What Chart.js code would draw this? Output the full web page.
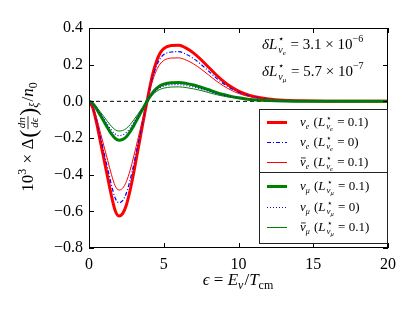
<!DOCTYPE html>
<html><head><meta charset="utf-8">
<script src="https://cdn.jsdelivr.net/npm/chart.js@4/dist/chart.umd.min.js"></script>
<style>html,body{margin:0;padding:0;background:#fff}#wrap{width:415px;height:312px;position:relative}</style>
</head><body><div id="wrap"><canvas id="c" width="415" height="312"></canvas></div>
<script>
const eps = [0,0.25,0.5,0.75,1,1.25,1.5,1.75,2,2.25,2.5,2.75,3,3.25,3.5,3.75,4,4.25,4.5,4.75,5,5.5,6,6.5,7,7.5,8,8.5,9,9.5,10,10.5,11,12,13,14,15,16,17,18,19,20];
const nueL = [0,-0.035,-0.115,-0.215,-0.315,-0.415,-0.515,-0.595,-0.625,-0.612,-0.565,-0.485,-0.385,-0.275,-0.165,-0.055,0.05,0.145,0.215,0.262,0.288,0.304,0.306,0.29,0.263,0.227,0.186,0.145,0.109,0.079,0.056,0.039,0.027,0.013,0.006,0.003,0.0013,0.0006,0.0003,0.0001,0.00005,0.00002];
const nue0 = [0,-0.031,-0.102,-0.19,-0.279,-0.367,-0.456,-0.527,-0.553,-0.542,-0.5,-0.429,-0.341,-0.243,-0.146,-0.049,0.044,0.128,0.19,0.232,0.255,0.269,0.271,0.257,0.233,0.201,0.165,0.128,0.096,0.07,0.05,0.035,0.024,0.012,0.005,0.0027,0.0012,0.0005,0.0003,0.0001,0.00004,0.00002];
const nuebarL = [0,-0.027,-0.089,-0.167,-0.244,-0.322,-0.399,-0.461,-0.484,-0.474,-0.438,-0.376,-0.298,-0.213,-0.128,-0.043,0.039,0.112,0.167,0.203,0.223,0.236,0.237,0.225,0.204,0.176,0.144,0.112,0.084,0.061,0.043,0.03,0.021,0.01,0.0047,0.0023,0.001,0.0005,0.0002,0.0001,0.00004,0.00001];
const numuL = [0,-0.012,-0.04,-0.075,-0.11,-0.145,-0.178,-0.202,-0.212,-0.208,-0.193,-0.166,-0.132,-0.094,-0.056,-0.018,0.016,0.046,0.069,0.085,0.094,0.102,0.103,0.098,0.089,0.077,0.063,0.049,0.037,0.027,0.019,0.013,0.009,0.0045,0.002,0.001,0.0005,0.0002,0.0001,0.00005,0.00002,0.00001];
const numu0 = [0,-0.011,-0.035,-0.066,-0.097,-0.128,-0.157,-0.178,-0.187,-0.183,-0.17,-0.146,-0.116,-0.083,-0.049,-0.016,0.014,0.04,0.061,0.075,0.083,0.09,0.091,0.086,0.078,0.068,0.055,0.043,0.033,0.024,0.017,0.011,0.008,0.004,0.0018,0.0009,0.0004,0.0002,0.0001,0.00004,0.00002,0.00001];
const numubarL = [0,-0.009,-0.031,-0.057,-0.084,-0.111,-0.136,-0.155,-0.162,-0.159,-0.148,-0.127,-0.101,-0.072,-0.043,-0.014,0.012,0.035,0.053,0.065,0.072,0.078,0.079,0.075,0.068,0.059,0.048,0.037,0.028,0.021,0.015,0.01,0.007,0.0034,0.0015,0.0008,0.0004,0.0002,0.0001,0.00004,0.00002,0.00001];
const zeroX = [0,20];
const zeroY = [0,0];
const xTicks = [0,5,10,15,20];
const yTicks = [-0.8,-0.6,-0.4,-0.2,0.0,0.2,0.4];

const FONT = "'Liberation Serif','DejaVu Serif',serif";
function fnt(it,size){return (it?'italic ':'')+size+'px '+FONT;}
function itemW(ctx,o){
  if(o.frac){ctx.font=fnt(true,o.size);return Math.max(ctx.measureText(o.n).width,ctx.measureText(o.d).width)+3;}
  ctx.font=fnt(o.it,o.size);
  return o.adv===false?0:ctx.measureText(o.s).width+(o.k||0);
}
function drawMath(ctx,items,x,y,align){
  let w=0; items.forEach(o=>w+=itemW(ctx,o));
  let cx = align==='center'?x-w/2:(align==='right'?x-w:x);
  ctx.textBaseline='alphabetic'; ctx.textAlign='left'; ctx.fillStyle='#000';
  items.forEach(o=>{
    if(o.frac){
      const W=itemW(ctx,o); ctx.font=fnt(true,o.size);
      const nw=ctx.measureText(o.n).width, dw=ctx.measureText(o.d).width;
      ctx.fillText(o.n,cx+(W-nw)/2,y+o.nb);
      ctx.fillText(o.d,cx+(W-dw)/2,y+o.db);
      ctx.strokeStyle='#000';ctx.lineWidth=0.8;ctx.beginPath();ctx.moveTo(cx+0.5,y+o.bar);ctx.lineTo(cx+W-0.5,y+o.bar);ctx.stroke();
      cx+=W; return;
    }
    ctx.font=fnt(o.it,o.size);
    ctx.fillText(o.s,cx,y+(o.dy||0));
    const ww=ctx.measureText(o.s).width;
    if(o.over){ctx.strokeStyle='#000';ctx.lineWidth=0.8;ctx.beginPath();ctx.moveTo(cx+1,y-o.size*0.62);ctx.lineTo(cx+ww,y-o.size*0.62);ctx.stroke();}
    if(o.adv!==false) cx+=ww+(o.k||0);
  });
}
function legendLabel(bar,flav,val){
  const S=13,s=9,ss=6.5;
  return [
    {s:'ν',it:true,size:S,over:bar},{s:flav,it:true,size:ss+1.5,dy:3,k:1},
    {s:' (',size:S},{s:'L',it:true,size:S,k:1},
    {s:'⋆',size:s,dy:-5,adv:false},{s:'ν',it:true,size:s,dy:3},{s:flav,it:true,size:ss,dy:5,k:1},
    {s:' = '+val+')',size:S}
  ];
}
const specs = [
  {key:'nueL', data:nueL, color:'#ff0000', w:3, dash:[]},
  {key:'nue0', data:nue0, color:'#0000ff', w:1.2, dash:[4,2,1,2]},
  {key:'nuebarL', data:nuebarL, color:'#ff0000', w:1, dash:[]},
  {key:'numuL', data:numuL, color:'#008000', w:3, dash:[]},
  {key:'numu0', data:numu0, color:'#0000ff', w:1.2, dash:[1,2]},
  {key:'numubarL', data:numubarL, color:'#008000', w:1, dash:[]}
];
const datasets = specs.map((sp,i)=>({
  label:sp.key, data:eps.map((e,j)=>({x:e,y:sp.data[j]})),
  borderColor:sp.color, borderWidth:sp.w, borderDash:sp.dash, pointRadius:0,
  cubicInterpolationMode:'monotone', fill:false, order:10-i
}));
datasets.unshift({label:'zero',data:zeroX.map((x,j)=>({x:x,y:zeroY[j]})),borderColor:'#000',borderWidth:1,borderDash:[4,3],pointRadius:0,order:20});

const deco = {
  id:'deco',
  afterDraw(chart){
    const ctx=chart.ctx, a=chart.chartArea, xs=chart.scales.x, ys=chart.scales.y;
    ctx.save();
    ctx.strokeStyle='#000';ctx.lineWidth=1;ctx.setLineDash([]);
    ctx.strokeRect(Math.round(a.left)+0.5,Math.round(a.top)+0.5,Math.round(a.right-a.left)-1,Math.round(a.bottom-a.top)-1);
    ctx.beginPath();
    xTicks.forEach(v=>{const px=Math.round(xs.getPixelForValue(v))+0.5; ctx.moveTo(px,a.bottom);ctx.lineTo(px,a.bottom-5);ctx.moveTo(px,a.top);ctx.lineTo(px,a.top+5);});
    yTicks.forEach(v=>{const py=Math.round(ys.getPixelForValue(v))+0.5; ctx.moveTo(a.left,py);ctx.lineTo(a.left+5,py);ctx.moveTo(a.right,py);ctx.lineTo(a.right-5,py);});
    ctx.stroke();
    const L=259,R=387,T1=109,M=172,B2=243;
    ctx.fillStyle='#fff';ctx.fillRect(L,T1,R-L,B2-T1);
    ctx.strokeStyle='#222';ctx.lineWidth=1;
    ctx.strokeRect(L+0.5,T1+0.5,R-L,M-T1);
    ctx.strokeRect(L+0.5,M+0.5,R-L,B2-M);
    const rows=[122,142,162,186,207,227];
    const labels=[legendLabel(false,'e','0.1'),legendLabel(false,'e','0'),legendLabel(true,'e','0.1'),
                  legendLabel(false,'μ','0.1'),legendLabel(false,'μ','0'),legendLabel(true,'μ','0.1')];
    specs.forEach((sp,i)=>{
      ctx.strokeStyle=sp.color;ctx.lineWidth=sp.w;ctx.setLineDash(sp.dash);
      ctx.beginPath();ctx.moveTo(267,rows[i]+0.5);ctx.lineTo(287,rows[i]+0.5);ctx.stroke();
      ctx.setLineDash([]);
      drawMath(ctx,labels[i],300,rows[i]+4,'left');
    });
    const ann=(flav,val,ex)=>[
      {s:'δ',it:true,size:15},{s:'L',it:true,size:15,k:1},
      {s:'⋆',size:10,dy:-7,adv:false},{s:'ν',it:true,size:10,dy:4},{s:flav,it:true,size:7,dy:6,k:1},
      {s:' = '+val+' × 10',size:15},{s:'−'+ex,size:10,dy:-7}
    ];
    drawMath(ctx,ann('e','3.1','6'),262,49,'left');
    drawMath(ctx,ann('μ','5.7','7'),262,76,'left');
    drawMath(ctx,[{s:'ϵ',it:true,size:17},{s:' = ',size:17},{s:'E',it:true,size:17},{s:'ν',it:true,size:12,dy:4,k:1},{s:'/',size:17},{s:'T',it:true,size:17},{s:'cm',size:12,dy:4}],238,285,'center');
    ctx.translate(33,137);ctx.rotate(-Math.PI/2);
    drawMath(ctx,[{s:'10',size:17},{s:'3',size:12,dy:-7,k:1},{s:' × Δ',size:17,k:1},{s:'(',size:24,dy:3},
      {frac:true,n:'dn',d:'dϵ',size:11,nb:-8,db:5,bar:-5},{s:')',size:24,dy:3},{s:'ξ',it:true,size:12,dy:5,k:1},
      {s:'/',size:17},{s:'n',it:true,size:17},{s:'0',size:12,dy:4}],0,0,'center');
    ctx.restore();
  }
};

new Chart(document.getElementById('c'),{
  type:'line',
  data:{datasets:datasets},
  options:{
    responsive:false, animation:false, devicePixelRatio:1,
    layout:{padding:{left:0,top:28,right:27,bottom:0}},
    plugins:{legend:{display:false},tooltip:{enabled:false}},
    scales:{
      x:{type:'linear',min:0,max:20,
        afterBuildTicks:s=>{s.ticks=xTicks.map(v=>({value:v}));},
        afterFit:s=>{s.height=64;},
        grid:{display:false,drawTicks:false},border:{display:false},
        ticks:{padding:7,color:'#000',font:{family:FONT,size:16},maxRotation:0,callback:v=>String(v)}},
      y:{type:'linear',min:-0.8,max:0.4,
        afterBuildTicks:s=>{s.ticks=yTicks.map(v=>({value:v}));},
        afterFit:s=>{s.width=89;},
        grid:{display:false,drawTicks:false},border:{display:false},
        ticks:{padding:6,color:'#000',font:{family:FONT,size:16},callback:v=>(v<0?'−':'')+Math.abs(v).toFixed(1)}}
    }
  },
  plugins:[deco]
});
</script></body></html>
